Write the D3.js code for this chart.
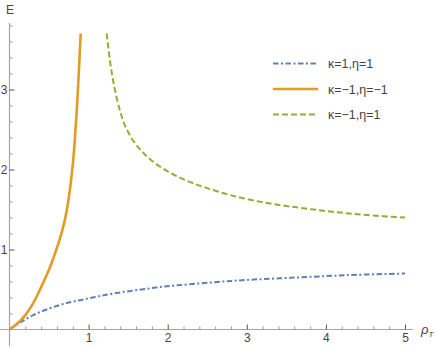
<!DOCTYPE html>
<html>
<head>
<meta charset="utf-8">
<script src="https://cdn.jsdelivr.net/npm/d3@7"></script>
<style>
  body { margin: 0; background: #fff; }
  text { font-family: "Liberation Sans", Arial, sans-serif; fill: #444; }
</style>
</head>
<body>
<svg id="chart" width="436" height="347"></svg>
<script>
// values
var rhoBlue = [0, 0.13, 0.30, 0.51, 0.72, 0.91, 1.10, 1.31, 1.74, 1.99, 2.58, 3.0, 3.42, 3.85, 4.27, 5.0];
var eBlue   = [0, 0.085, 0.18, 0.265, 0.33, 0.37, 0.41, 0.45, 0.51, 0.54, 0.59, 0.62, 0.64, 0.66, 0.68, 0.70];

var rhoOrange = [0, 0.1, 0.2, 0.3, 0.4, 0.5, 0.55, 0.6, 0.65, 0.7, 0.75, 0.8, 0.85, 0.9];
var eOrange   = [0, 0.075, 0.18, 0.33, 0.53, 0.75, 0.88, 1.02, 1.18, 1.37, 1.65, 2.06, 2.74, 3.70];

var rhoGreen = [1.229, 1.27, 1.32, 1.39, 1.46, 1.565, 1.69, 1.84, 2.03, 2.24, 2.49, 2.83, 3.26, 3.68, 4.10, 4.52, 5.0];
var eGreen   = [3.70, 3.36, 3.06, 2.76, 2.55, 2.36, 2.21, 2.08, 1.96, 1.86, 1.77, 1.67, 1.58, 1.52, 1.47, 1.43, 1.40];

var legendLabels = ["κ=1,η=1", "κ=−1,η=−1", "κ=−1,η=1"];
var xTicks = [1, 2, 3, 4, 5];
var yTicks = [1, 2, 3];

var svg = d3.select("#chart");

var x = d3.scaleLinear().domain([0, 5]).range([9.5, 405]);
var y = d3.scaleLinear().domain([0, 3]).range([329.5, 89.5]);

// minor ticks every 0.2
var xMinor = d3.range(1, 26).map(function(i){ return i / 5; }).filter(function(v){ return Math.abs(v - Math.round(v)) > 1e-6; });
var yMinor = d3.range(1, 20).map(function(i){ return i / 5; }).filter(function(v){ return Math.abs(v - Math.round(v)) > 1e-6 && v < 3.85; });

// axis lines
svg.append("line").attr("x1", 0).attr("x2", 413)
   .attr("y1", y(0)).attr("y2", y(0))
   .attr("stroke", "#a6a6a6").attr("stroke-width", 1.2);
svg.append("line").attr("x1", x(0)).attr("x2", x(0))
   .attr("y1", 346).attr("y2", 23)
   .attr("stroke", "#a6a6a6").attr("stroke-width", 1.2);

var xMaj = svg.append("g").attr("transform", "translate(0," + y(0) + ")")
   .call(d3.axisBottom(x).tickValues(xTicks).tickSize(-5).tickPadding(4).tickFormat(d3.format("d")));
var xMin = svg.append("g").attr("transform", "translate(0," + y(0) + ")")
   .call(d3.axisBottom(x).tickValues(xMinor).tickSize(-3).tickFormat(""));
var yMaj = svg.append("g").attr("transform", "translate(" + x(0) + ",0)")
   .call(d3.axisLeft(y).tickValues(yTicks).tickSize(-5).tickPadding(3).tickFormat(d3.format("d")));
var yMin = svg.append("g").attr("transform", "translate(" + x(0) + ",0)")
   .call(d3.axisLeft(y).tickValues(yMinor).tickSize(-3).tickFormat(""));

[xMaj, xMin, yMaj, yMin].forEach(function(g){ g.select(".domain").remove(); });
xMaj.selectAll("line").attr("stroke", "#555");
yMaj.selectAll("line").attr("stroke", "#555");
xMin.selectAll("line").attr("stroke", "#999");
yMin.selectAll("line").attr("stroke", "#999");
svg.selectAll(".tick text").style("font-family", "Liberation Sans, Arial, sans-serif")
   .style("font-size", "12px").attr("fill", "#444");
yMaj.selectAll(".tick text").attr("x", -2);

// axis labels
svg.append("text").attr("x", 6).attr("y", 14).style("font-size", "12px").text("E");
var rl = svg.append("text").attr("x", 421).attr("y", 334).style("font-size", "13px");
rl.append("tspan").style("font-style", "italic").text("ρ");
rl.append("tspan").attr("dy", 3).style("font-size", "8px").style("font-style", "italic").text("T");

// curves
var line = d3.line()
  .x(function(d){ return x(d[0]); })
  .y(function(d){ return y(d[1]); })
  .curve(d3.curveCatmullRom.alpha(0.5));

function zip(a, b) { return a.map(function(v, i){ return [v, b[i]]; }); }

var series = [
  { pts: zip(rhoBlue, eBlue), color: "#5E81B5", width: 2, dash: "5.5,2.5,2,2.5" },
  { pts: zip(rhoOrange, eOrange), color: "#E19C24", width: 2.6, dash: null },
  { pts: zip(rhoGreen, eGreen), color: "#8FB032", width: 2, dash: "6,3" }
];

series.forEach(function(s){
  svg.append("path").datum(s.pts)
    .attr("d", line)
    .attr("fill", "none")
    .attr("stroke", s.color)
    .attr("stroke-width", s.width)
    .attr("stroke-dasharray", s.dash);
});

// legend
var leg = svg.append("g");
series.forEach(function(s, i){
  var yy = 63.5 + i * 25.5;
  leg.append("line").attr("x1", 273).attr("x2", 318).attr("y1", yy).attr("y2", yy)
    .attr("stroke", s.color).attr("stroke-width", s.width)
    .attr("stroke-dasharray", s.dash);
  leg.append("text").attr("x", 328).attr("y", yy + 4.5).style("font-size", "12.5px")
    .attr("fill", "#333").text(legendLabels[i]);
});
</script>
</body>
</html>
